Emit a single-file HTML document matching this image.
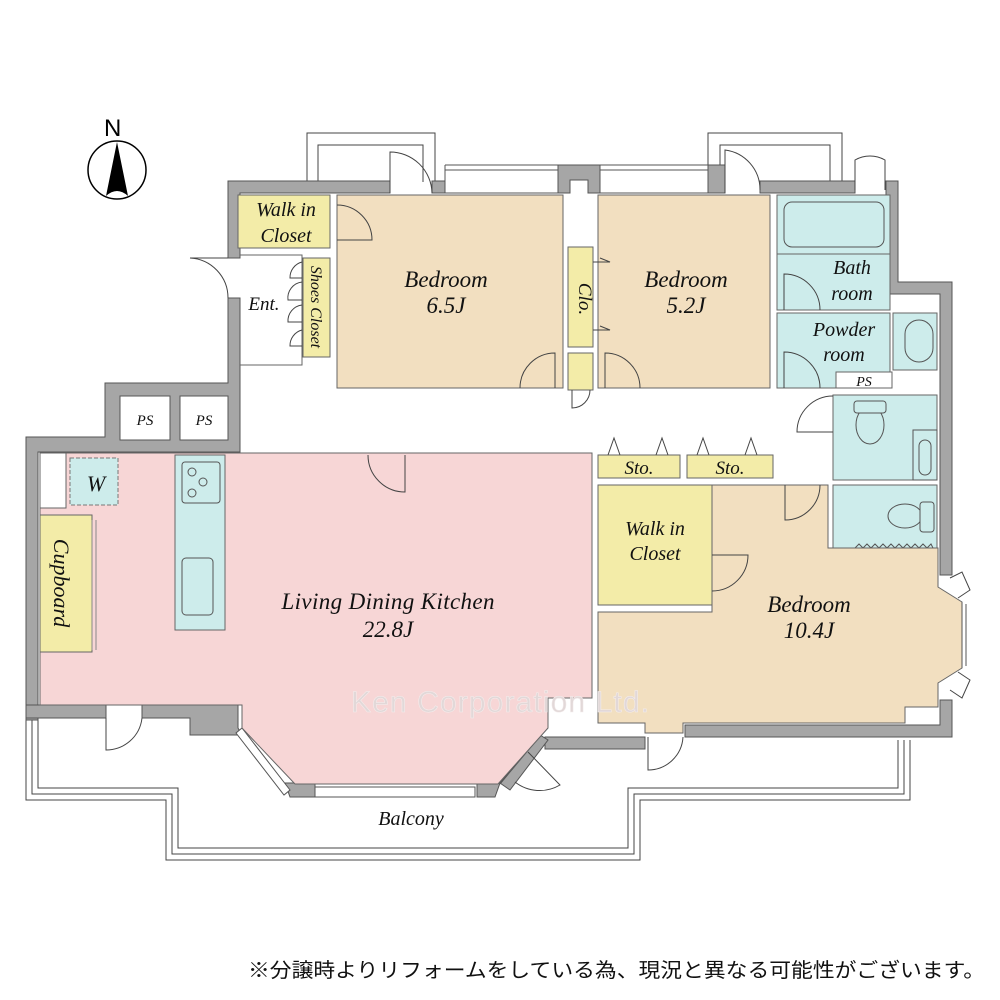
<!DOCTYPE html>
<html><head><meta charset="utf-8"><style>
html,body{margin:0;padding:0;background:#fff}
svg{display:block}
.t{font-family:"Liberation Serif",serif;font-style:italic;fill:#111}
</style></head><body>
<svg width="1000" height="1000" viewBox="0 0 1000 1000" xmlns="http://www.w3.org/2000/svg">
<rect width="1000" height="1000" fill="#fff"/>
<!-- compass -->
<circle cx="117" cy="170" r="29" fill="#fff" stroke="#000" stroke-width="1.5"/>
<path d="M117 142 L106 196 Q117 186 128 196 Z" fill="#000"/>
<text x="104" y="136" font-family="Liberation Sans,sans-serif" font-size="24" fill="#000">N</text>

<!-- top balconies -->
<g fill="none" stroke="#444" stroke-width="1">
<path d="M307 182 V133 H435 V182"/><path d="M318 182 V145 H423 V182"/>
<path d="M708 182 V133 H842 V182"/><path d="M720 182 V145 H830 V182"/>
</g>

<!-- balcony bottom outline -->
<g fill="none" stroke="#444" stroke-width="1">
<path d="M26 720 V800 H166 V860 H640 V800 H910 V740"/>
<path d="M32 720 V794 H172 V854 H634 V794 H904 V740"/>
<path d="M38 720 V788 H178 V848 H628 V788 H898 V740"/>
</g>

<!-- walls -->
<g fill="#a6a6a6" stroke="#555" stroke-width="1">
<path d="M228 181 H390 V193 H240 V258 H228 Z"/>
<path d="M228 298 H240 V452 H38 V720 H26 V437 H105 V383 H228 Z"/>
<rect x="432" y="181" width="13" height="12"/>
<path d="M558 165 H600 V193 H588 V180 H570 V193 H558 Z"/>
<rect x="708" y="165" width="17" height="28"/>
<rect x="760" y="181" width="95" height="12"/>
<path d="M886 181 H898 V282 H952 V575 H940 V294 H886 Z"/>
<path d="M940 700 H952 V737 H685 V725 H940 Z"/>
<path d="M545 737 H645 V749 H558 L545 749 Z"/>
<path d="M26 705 H106 V718 H26 Z"/>
<path d="M142 705 H238 V728 L242 735 H190 V718 H142 Z"/>
<path d="M285 783 H315 V797 H290 Z"/>
<path d="M477 783 H500 L495 797 H477 Z"/>
<path d="M500 783 L540 735 L548 740 L510 790 Z"/>
<rect x="120" y="396" width="50" height="44" fill="#fff"/>
<rect x="180" y="396" width="48" height="44" fill="#fff"/>
</g>
<!-- bay window LDK -->
<g fill="#fff" stroke="#555" stroke-width="1">
<path d="M236 733 L242 728 L290 790 L284 795 Z"/>
<rect x="315" y="787" width="160" height="10"/>
<path d="M500 784 L540 736"/>
</g>
<!-- top windows -->
<g fill="none" stroke="#555" stroke-width="1">
<path d="M445 165 H558 M445 170 H558 M445 193 H558 M445 165 V193 M600 165 H708 M600 170 H708 M600 193 H708"/>
</g>

<!-- LDK -->
<path d="M40 453 H592 V698 H548 V728 L498 784 H295 L242 728 V705 H40 Z" fill="#f7d6d6" stroke="#666" stroke-width="1"/>
<rect x="40" y="453" width="26" height="55" fill="#fff" stroke="#666"/>
<rect x="70" y="458" width="48" height="47" fill="#cdeceb" stroke="#777" stroke-dasharray="4 2"/>
<rect x="40" y="515" width="52" height="137" fill="#f3eca8" stroke="#666"/>
<path d="M92 520 V650 M96 520 V650" stroke="#888" fill="none"/>
<rect x="175" y="455" width="50" height="175" fill="#cdeceb" stroke="#666"/>
<rect x="182" y="462" width="38" height="41" rx="3" fill="none" stroke="#555"/>
<circle cx="192" cy="472" r="4" fill="none" stroke="#555"/><circle cx="203" cy="482" r="4" fill="none" stroke="#555"/><circle cx="192" cy="493" r="4" fill="none" stroke="#555"/>
<rect x="182" y="558" width="31" height="57" rx="4" fill="none" stroke="#555"/>

<!-- rooms north -->
<rect x="238" y="195" width="92" height="53" fill="#f3eca8" stroke="#666"/>
<rect x="337" y="195" width="226" height="193" fill="#f2dfc0" stroke="#666"/>
<rect x="568" y="247" width="25" height="100" fill="#f3eca8" stroke="#666"/>
<rect x="568" y="353" width="25" height="37" fill="#f3eca8" stroke="#666"/>
<rect x="598" y="195" width="172" height="193" fill="#f2dfc0" stroke="#666"/>
<rect x="303" y="258" width="27" height="99" fill="#f3eca8" stroke="#666"/>
<path d="M240 255 H302 V365 H240" fill="none" stroke="#666"/>
<rect x="777" y="195" width="113" height="115" fill="#cdeceb" stroke="#666"/>
<rect x="784" y="202" width="100" height="45" rx="8" fill="none" stroke="#555"/>
<path d="M777 254 H890" stroke="#666"/>
<rect x="777" y="313" width="113" height="75" fill="#cdeceb" stroke="#666"/>
<rect x="893" y="313" width="44" height="57" fill="#cdeceb" stroke="#666"/>
<rect x="905" y="320" width="28" height="42" rx="14" fill="none" stroke="#555"/>
<rect x="836" y="372" width="56" height="16" fill="#fff" stroke="#666"/>
<rect x="833" y="395" width="104" height="85" fill="#cdeceb" stroke="#666"/>
<rect x="913" y="430" width="24" height="50" fill="none" stroke="#555"/>
<rect x="919" y="440" width="12" height="35" rx="6" fill="none" stroke="#555"/>
<ellipse cx="870" cy="425" rx="14" ry="19" fill="none" stroke="#555"/>
<rect x="854" y="401" width="32" height="12" rx="3" fill="#cdeceb" stroke="#555"/>
<rect x="833" y="485" width="104" height="63" fill="#cdeceb" stroke="#666"/>
<ellipse cx="905" cy="516" rx="17" ry="12" fill="none" stroke="#555"/>
<rect x="920" y="502" width="14" height="30" rx="3" fill="#cdeceb" stroke="#555"/>
<path d="M855 548 l4 -4 l4 4 l4 -4 l4 4 l4 -4 l4 4 l4 -4 l4 4 l4 -4 l4 4 l4 -4 l4 4 l4 -4 l4 4 l4 -4 l4 4 l4 -4 l4 4 l4 -4 l2 4" fill="none" stroke="#555"/>

<!-- south-east -->
<rect x="598" y="455" width="82" height="23" fill="#f3eca8" stroke="#666"/>
<rect x="687" y="455" width="86" height="23" fill="#f3eca8" stroke="#666"/>
<rect x="598" y="485" width="114" height="120" fill="#f3eca8" stroke="#666"/>
<path d="M598 612 H712 V485 H828 V548 H938 V587 L962 602 V668 L938 683 V707 H905 V723 H683 V733 H645 V723 H598 Z" fill="#f2dfc0" stroke="#666"/>
<path d="M962 602 V668 M966 604 V666" stroke="#555" fill="none"/>

<!-- doors -->
<g fill="none" stroke="#444" stroke-width="1">
<path d="M390 193 V152 A42 42 0 0 1 432 193"/>
<path d="M337 240 H372 A35 35 0 0 0 337 205"/>
<path d="M228 258 H190 A40 40 0 0 1 228 298"/>
<path d="M520 388 A35 35 0 0 1 555 353 V388"/>
<path d="M605 388 V353 A35 35 0 0 1 640 388"/>
<path d="M784 388 V352 A36 36 0 0 1 820 388"/>
<path d="M784 310 V274 A36 36 0 0 1 820 310"/>
<path d="M725 193 V150 A40 40 0 0 1 760 190"/>
<path d="M855 190 V160 A30 30 0 0 1 885 160 V190"/>
<path d="M833 432 H797 A36 36 0 0 1 833 396"/>
<path d="M405 455 V492 A37 37 0 0 1 368 455"/>
<path d="M785 485 V520 A35 35 0 0 0 820 485"/>
<path d="M712 555 H748 A36 36 0 0 1 712 591"/>
<path d="M106 718 V750 A36 36 0 0 0 142 718"/>
<path d="M648 737 V770 A35 35 0 0 0 683 737"/>
<path d="M528 752 L560 785 A40 40 0 0 1 515 782"/>
<path d="M572 390 V408 A18 18 0 0 0 590 390"/>
<path d="M302 262 A16 16 0 0 0 290 278 H302 M302 282 A16 16 0 0 0 288 300 H302 M302 305 A16 16 0 0 0 288 322 H302 M302 330 A16 16 0 0 0 290 346 H302"/>
<path d="M593 262 L610 262 L600 258 M593 330 L610 330 L600 326"/>
<path d="M608 455 L614 438 L620 455 M656 455 L662 438 L668 455 M697 455 L703 438 L709 455 M745 455 L751 438 L757 455"/>
<path d="M950 578 L962 572 L970 590 L958 598 M950 690 L962 698 L970 680 L958 672"/>
</g>

<!-- labels -->
<text x="500" y="712" text-anchor="middle" font-size="30" font-family="Liberation Sans,sans-serif" fill="#e2d8d8" stroke="#f4eeee" stroke-width="0.5" textLength="298">Ken Corporation Ltd.</text>
<g class="t" text-anchor="middle">
<text x="286" y="216" font-size="20">Walk in</text>
<text x="286" y="242" font-size="20">Closet</text>
<text x="446" y="287" font-size="23">Bedroom</text>
<text x="446" y="313" font-size="23">6.5J</text>
<text x="686" y="287" font-size="23">Bedroom</text>
<text x="686" y="313" font-size="23">5.2J</text>
<text x="264" y="310" font-size="19">Ent.</text>
<text x="852" y="274" font-size="20">Bath</text>
<text x="852" y="300" font-size="20">room</text>
<text x="844" y="336" font-size="20">Powder</text>
<text x="844" y="361" font-size="20">room</text>
<text x="864" y="386" font-size="14">PS</text>
<text x="145" y="425" font-size="15">PS</text>
<text x="204" y="425" font-size="15">PS</text>
<text x="96" y="491" font-size="22">W</text>
<text x="639" y="474" font-size="19">Sto.</text>
<text x="730" y="474" font-size="19">Sto.</text>
<text x="655" y="535" font-size="20">Walk in</text>
<text x="655" y="560" font-size="20">Closet</text>
<text x="809" y="612" font-size="23">Bedroom</text>
<text x="809" y="638" font-size="23">10.4J</text>
<text x="388" y="609" font-size="23" textLength="213">Living Dining Kitchen</text>
<text x="388" y="637" font-size="23">22.8J</text>
<text x="411" y="825" font-size="20">Balcony</text>
<text transform="translate(579 299) rotate(90)" font-size="19">Clo.</text>
<text transform="translate(311 307) rotate(90)" font-size="16">Shoes Closet</text>
<text transform="translate(54 583) rotate(90)" font-size="22">Cupboard</text>
</g>
<text x="248" y="977" font-family="Liberation Sans,'Noto Sans CJK JP',sans-serif" font-size="20" fill="#111" textLength="737" lengthAdjust="spacingAndGlyphs">※分譲時よりリフォームをしている為、現況と異なる可能性がございます。</text>
</svg>
</body></html>
